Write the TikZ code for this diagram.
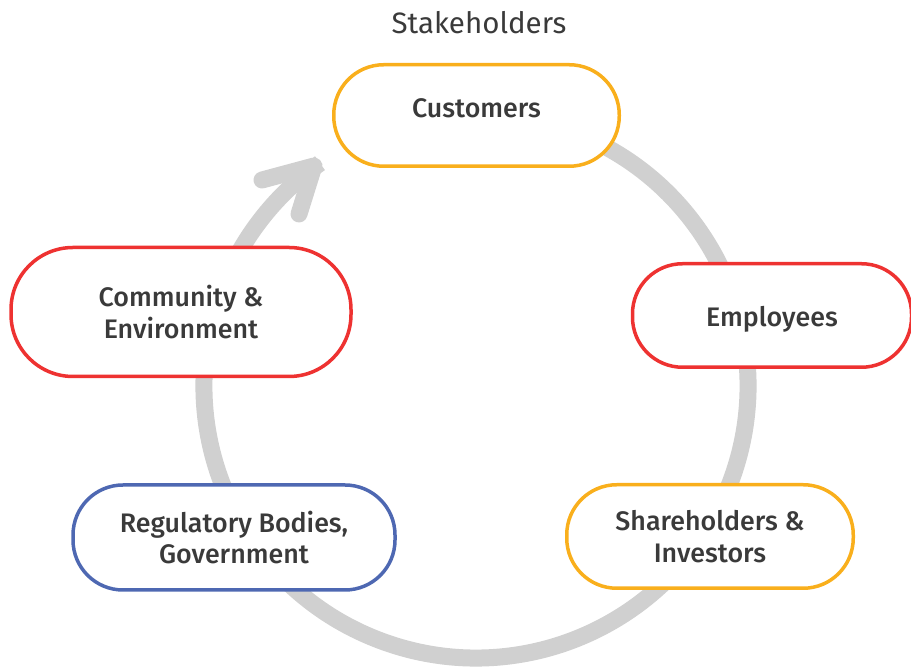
\documentclass[tikz,border=0pt]{standalone}
\usepackage{fontspec}
\setmainfont{Fira Sans}
\newfontfamily\medfont{Fira Sans Medium}
\definecolor{cOrange}{HTML}{F9AF1C}
\definecolor{cRed}{HTML}{EE3231}
\definecolor{cBlue}{HTML}{4E68B2}
\definecolor{cGrey}{HTML}{D0D0D0}
\definecolor{cText}{HTML}{3A3A3A}
\tikzset{
  pill/.style={draw, line width=3.5pt, fill=white, rounded corners=50pt, align=center,
    text=cText, font=\medfont\fontsize{26.8}{31.5}\selectfont, inner sep=0pt},
  ring/.style={draw=cGrey, line width=17pt},
}
\begin{document}
\begin{tikzpicture}[x=1pt,y=1pt]
\useasboundingbox (0,0) rectangle (911,668);
% ring: center (476, 668-386=282), r=272
\coordinate (c) at (476,282);
\draw[ring] ([shift={(70:272)}]c) arc[start angle=70, end angle=-235, radius=272];
\coordinate (tip) at (314,502);
\coordinate (arma) at (262,488);
\coordinate (armb) at (299,454);
\draw[ring, line cap=round, line join=round] (arma) -- (tip) -- (armb);
\node[text=cText, font=\fontsize{29.5}{33}\selectfont] (title) at (479,645) {Stakeholders};
\node[pill, draw=cOrange, minimum width=285.5pt, minimum height=101.5pt, text height=3.6pt, text depth=0pt] (cust) at (476.5,552.5) {Customers};
\node[pill, draw=cRed, minimum width=279pt, minimum height=103.5pt, text height=22pt, text depth=0pt] (emp) at (772,352.5) {Employees};
\node[pill, draw=cOrange, minimum width=286.5pt, minimum height=103.5pt] (share) at (710,131.5) {Shareholders \&\\Investors};
\node[pill, draw=cBlue, minimum width=322pt, minimum height=105pt] (reg) at (234,130.5) {Regulatory Bodies,\\Government};
\node[pill, draw=cRed, minimum width=340pt, minimum height=129pt, rounded corners=62pt] (comm) at (181,356) {Community \&\\Environment};
\end{tikzpicture}
\end{document}
